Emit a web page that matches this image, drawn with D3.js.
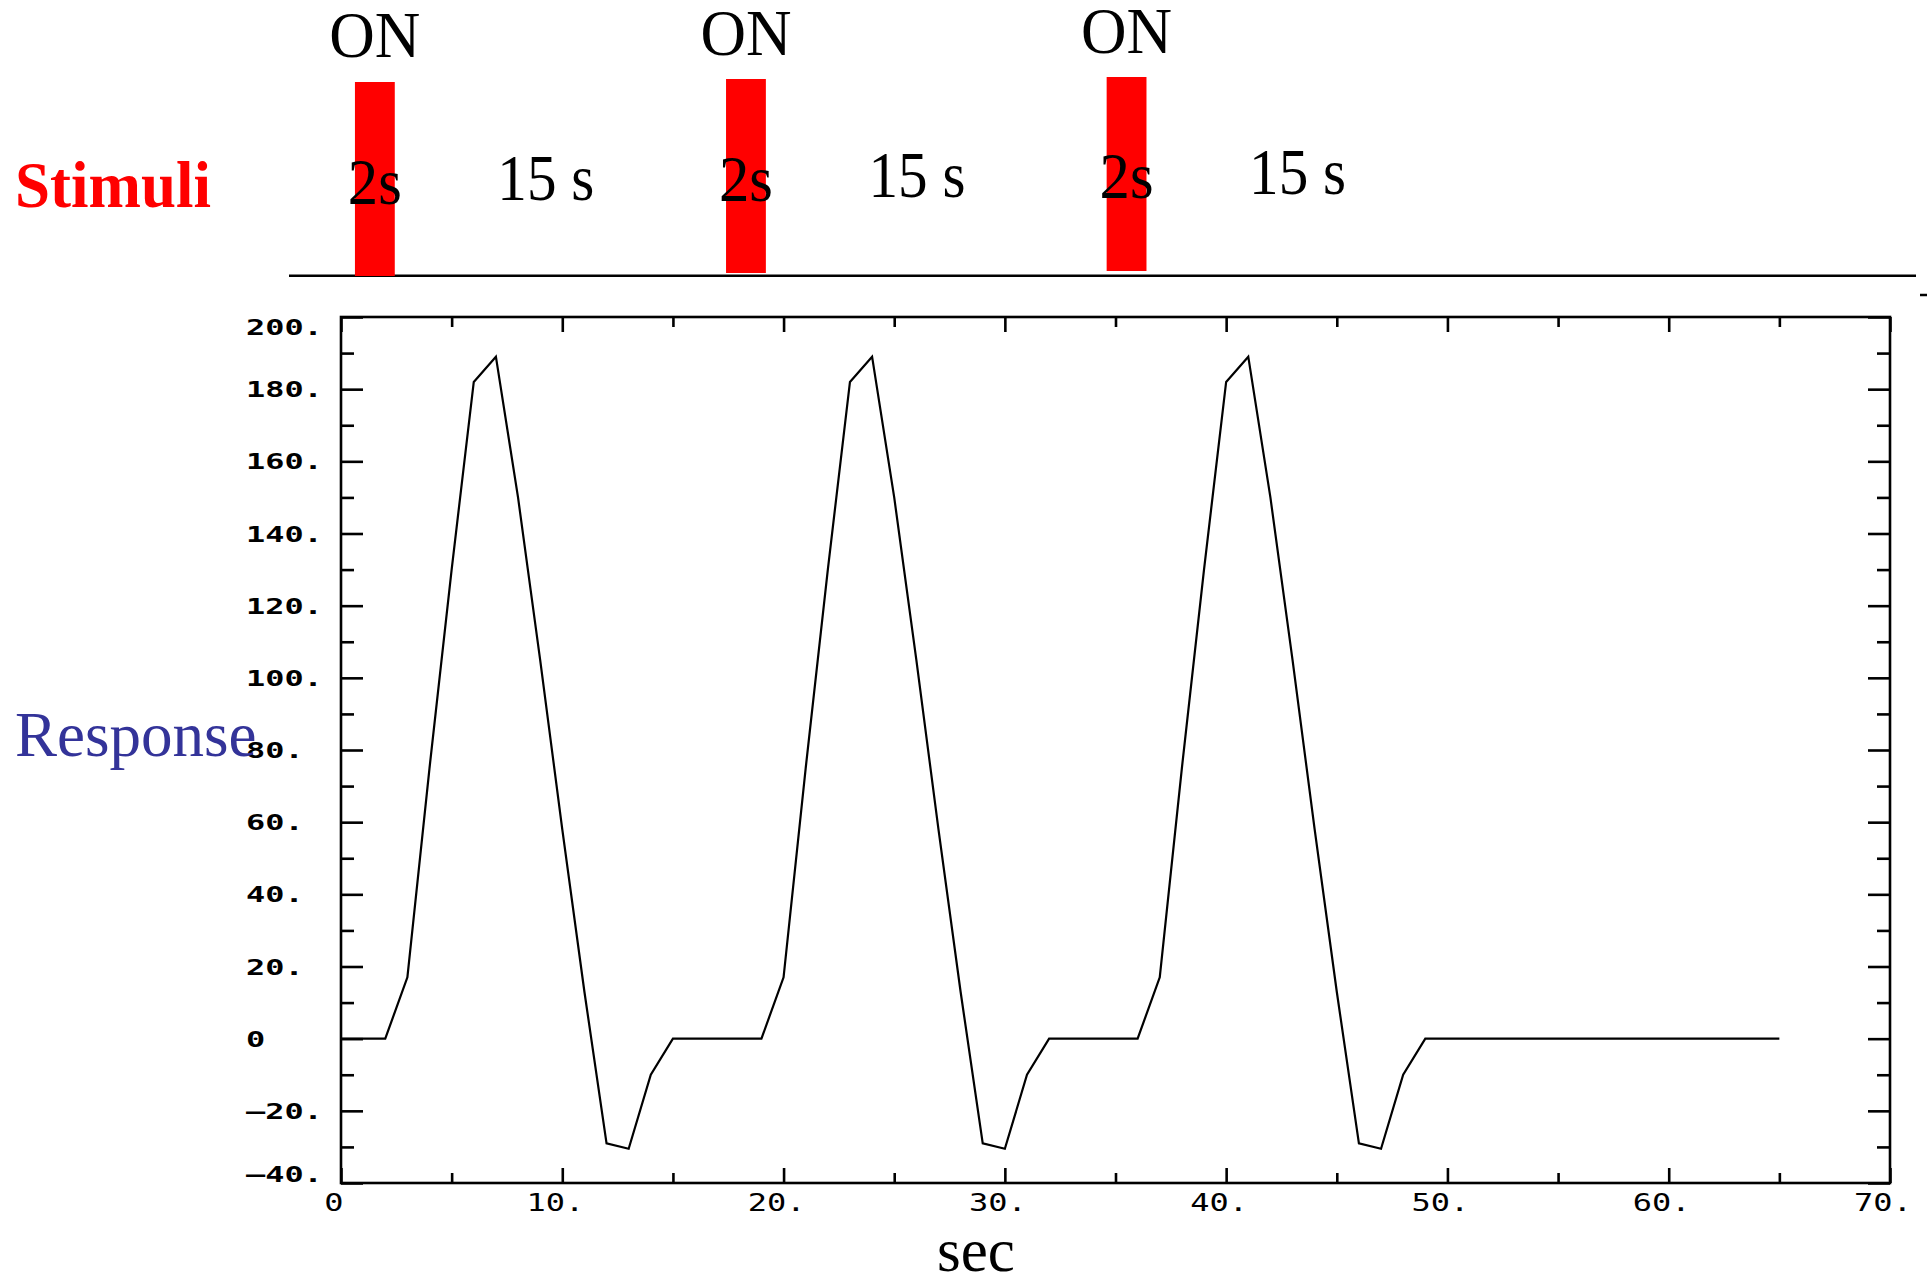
<!DOCTYPE html>
<html><head><meta charset="utf-8">
<script src="https://cdn.jsdelivr.net/npm/d3@7"></script>
<style>body{margin:0;background:#fff} svg{display:block}</style>
</head><body><svg id="c" width="1927" height="1275"></svg>
<script>
// ---------- data ----------
const timeSec = [0,1,2,3,4,5,6,7,8,9,10,11,12,13,14,15,16,17,18,19,20,21,22,23,24,25,26,27,28,29,30,31,32,33,34,35,36,37,38,39,40,41,42,43,44,45,46,47,48,49,50,51,52,53,54,55,56,57,58,59,60,61,62,63,64,65];
const response = [
  0,0,0,17,75,130,182,189,150,105,58,13,-29,-30.5,-10,0,
  0,0,0,0,
  17,75,130,182,189,150,105,58,13,-29,-30.5,-10,0,
  0,0,0,0,
  17,75,130,182,189,150,105,58,13,-29,-30.5,-10,0,
  0,0,0,0,0,0,0,0,0,0,0,0,0,0,0,0
];
const stimOnset = [0.63, 17.4, 34.6];
const stimDuration = 1.8;
const onLabels = ["ON","ON","ON"];
const durLabels = ["2s","2s","2s"];
const gapLabels = ["15 s","15 s","15 s"];
const xTickValues = [0,10,20,30,40,50,60,70];
const xTickLabels = ["0","10.","20.","30.","40.","50.","60.","70."];
const yTickValues = [200,180,160,140,120,100,80,60,40,20,0,-20,-40];
const yTickLabels = ["200.","180.","160.","140.","120.","100.","80.","60.","40.","20.","0","\u201420.","\u201440."];

// ---------- drawing ----------
const svg = d3.select("#c");
const L = 341, R = 1890, T = 317, B = 1183;
const x = d3.scaleLinear().domain([0,70]).range([L,R]);
const y = d3.scaleLinear().domain([-40,200]).range([B,T]);

// stimulus area
svg.append("line").attr("x1",289).attr("x2",1916).attr("y1",275.7).attr("y2",275.7)
  .attr("stroke","#000").attr("stroke-width",2.6);
svg.append("line").attr("x1",1920).attr("x2",1927).attr("y1",295).attr("y2",295)
  .attr("stroke","#000").attr("stroke-width",2.5);

const barShift = [0,-3,-5];
const txtShift = [0,-3,-6];
const onShift = [0,-2,-4];
const serif = "'Liberation Serif','Times New Roman',serif";
stimOnset.forEach((t0,i)=>{
  const x0 = x(t0), x1 = x(t0+stimDuration), cx = (x0+x1)/2;
  svg.append("rect").attr("x",x0).attr("width",x1-x0)
    .attr("y",82+barShift[i]).attr("height",194)
    .attr("fill","#ff0000");
  svg.append("text").attr("x",cx).attr("y",57+onShift[i]).attr("text-anchor","middle")
    .attr("font-family",serif).attr("font-size",66)
    .attr("textLength",91).attr("lengthAdjust","spacingAndGlyphs").text(onLabels[i]);
  svg.append("text").attr("x",cx).attr("y",204+txtShift[i]).attr("text-anchor","middle")
    .attr("font-family",serif).attr("font-size",66)
    .attr("textLength",54).attr("lengthAdjust","spacingAndGlyphs").text(durLabels[i]);
  svg.append("text").attr("x",cx+171).attr("y",200+txtShift[i]).attr("text-anchor","middle")
    .attr("font-family",serif).attr("font-size",66)
    .attr("textLength",97).attr("lengthAdjust","spacingAndGlyphs").text(gapLabels[i]);
});

svg.append("text").attr("x",15).attr("y",207)
  .attr("font-family",serif).attr("font-size",66).attr("font-weight","bold")
  .attr("fill","#ff0000").attr("textLength",196).attr("lengthAdjust","spacingAndGlyphs")
  .text("Stimuli");

// plot frame
svg.append("rect").attr("x",L).attr("y",T).attr("width",R-L).attr("height",B-T)
  .attr("fill","none").attr("stroke","#000").attr("stroke-width",2.6);

// ticks via d3 axes (inward)
function tickAxis(axisFn, scale, values, size, transform){
  const g = svg.append("g").attr("transform",transform)
    .call(axisFn(scale).tickValues(values).tickSize(size).tickFormat(""));
  g.select(".domain").remove();
  g.selectAll(".tick line").attr("stroke","#000").attr("stroke-width",2.6);
}
const xMajor = d3.range(0,71,10), xMinor = d3.range(5,70,10);
const yMajor = d3.range(-40,201,20), yMinor = d3.range(-30,200,20);
tickAxis(d3.axisBottom, x, xMajor, -15, `translate(0,${B})`);
tickAxis(d3.axisBottom, x, xMinor, -10, `translate(0,${B})`);
tickAxis(d3.axisTop, x, xMajor, -15, `translate(0,${T})`);
tickAxis(d3.axisTop, x, xMinor, -10, `translate(0,${T})`);
tickAxis(d3.axisLeft, y, yMajor, -22, `translate(${L},0)`);
tickAxis(d3.axisLeft, y, yMinor, -13, `translate(${L},0)`);
tickAxis(d3.axisRight, y, yMajor, -22, `translate(${R},0)`);
tickAxis(d3.axisRight, y, yMinor, -13, `translate(${R},0)`);

// tick labels
const mono = "'DejaVu Sans Mono',monospace";
yTickValues.forEach((v,i)=>{
  let base = y(v)+8;
  if (v===200) base += 10;
  if (v===-40) base -= 9;
  svg.append("text").attr("transform",`translate(246,${base}) scale(1.45,1)`)
    .attr("font-family",mono).attr("font-weight","bold").attr("font-size",22)
    .text(yTickLabels[i]);
});
xTickValues.forEach((v,i)=>{
  svg.append("text").attr("transform",`translate(${x(v)-7},1211) scale(1.28,1)`)
    .attr("text-anchor","middle")
    .attr("font-family",mono).attr("font-size",25)
    .text(xTickLabels[i]);
});

// response curve
const pts = timeSec.map((t,i)=>({t, v:response[i]}));
svg.append("path").datum(pts)
  .attr("d", d3.line().x(d=>x(d.t)).y(d=>y(d.v)))
  .attr("fill","none").attr("stroke","#000").attr("stroke-width",2.2);

// axis titles
svg.append("text").attr("x",15).attr("y",756)
  .attr("font-family",serif).attr("font-size",63).attr("fill","#333399")
  .text("Response");
svg.append("text").attr("x",976).attr("y",1271).attr("text-anchor","middle")
  .attr("font-family",serif).attr("font-size",61)
  .text("sec");
</script>
</body></html>
